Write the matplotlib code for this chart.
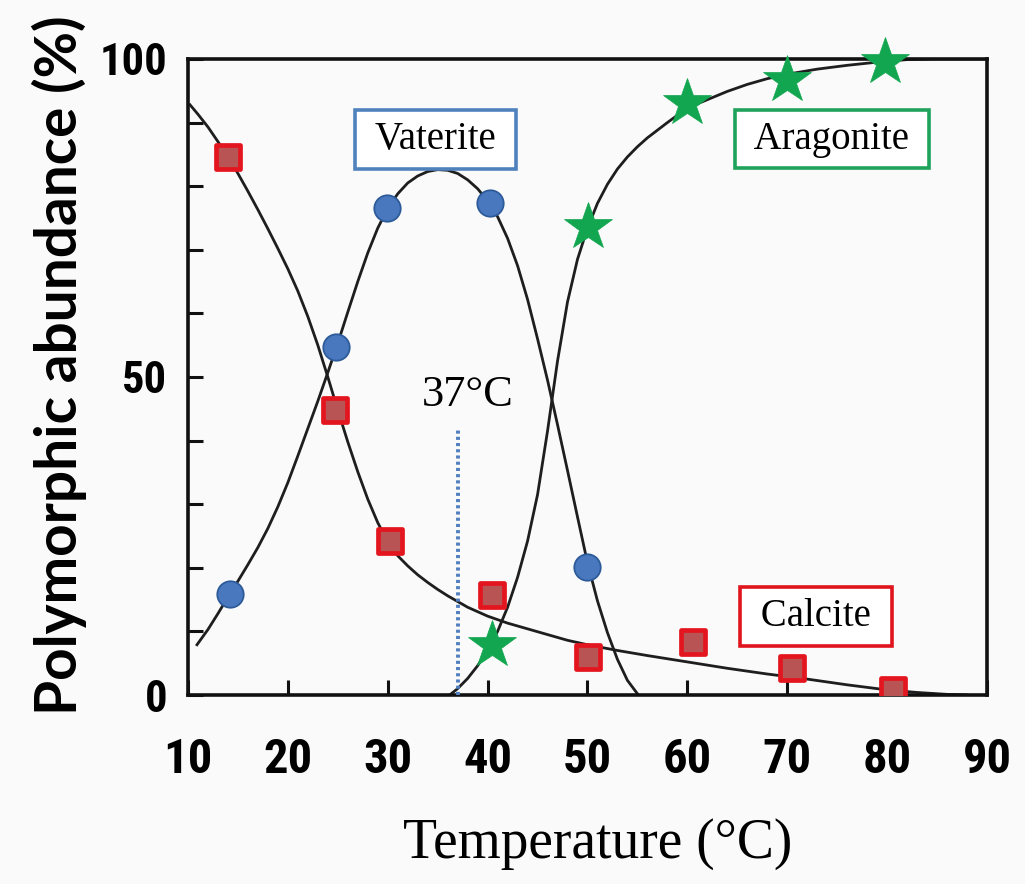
# polymorph abundance vs temperature (calcite / vaterite / aragonite)

import matplotlib
matplotlib.use("Agg")
import matplotlib.pyplot as plt
from matplotlib.markers import MarkerStyle
from matplotlib import font_manager

# measured points
calcite_t = [14.0, 24.7, 30.2, 40.4, 50.1, 60.6, 70.5, 80.6]
calcite_pct = [84.6, 44.8, 24.2, 15.7, 6.0, 8.3, 4.2, 0.8]

vaterite_t = [14.2, 24.8, 29.9, 40.2, 50.0]
vaterite_pct = [15.9, 54.7, 76.6, 77.4, 20.1]

aragonite_t = [40.4, 50.1, 60.0, 70.0, 79.8]
aragonite_pct = [7.9, 73.6, 93.1, 96.7, 99.5]

# hand-drawn fit curves
calcite_curve_t = [10.2, 11, 12, 13, 14, 15, 16, 17, 18, 19, 20, 21, 22, 23, 24, 25, 26, 27,
                   28, 29, 30, 31, 32, 33, 34, 35, 36, 38, 40, 42, 44, 46, 48, 50, 53, 56,
                   60, 64, 68, 72, 76, 80, 83, 86, 88]
calcite_curve_pct = [92.8, 91.3, 89.3, 87.0, 84.6, 82.0, 79.2, 76.3, 73.3, 70.2, 67.0, 63.5,
                     59.5, 55.0, 50.0, 44.8, 39.8, 35.1, 30.8, 27.1, 24.1, 21.9, 20.3, 18.9,
                     17.7, 16.6, 15.6, 13.8, 12.4, 11.3, 10.4, 9.5, 8.6, 7.9, 7.0, 6.2,
                     5.2, 4.2, 3.3, 2.5, 1.6, 0.8, 0.4, 0.1, 0.0]

vaterite_curve_t = [10.9, 12, 13, 14, 15, 16, 17, 18, 19, 20, 21, 22, 23, 24, 25, 26, 27, 28,
                    29, 30, 31, 32, 33, 34, 35, 36, 37, 38, 39, 40, 41, 42, 43, 44, 45, 46,
                    47, 48, 49, 50, 51, 52, 53, 54, 55]
vaterite_curve_pct = [7.9, 10.3, 12.8, 15.4, 17.9, 20.5, 23.2, 26.2, 29.6, 33.4, 37.6, 41.9,
                      46.2, 50.7, 55.3, 60.2, 65.0, 69.5, 73.4, 76.5, 78.8, 80.5, 81.6, 82.3,
                      82.6, 82.5, 82.0, 81.0, 79.6, 77.7, 75.2, 71.8, 67.5, 62.2, 56.0, 49.5,
                      42.5, 35.3, 28.0, 20.8, 14.8, 9.8, 5.6, 2.3, 0.2]

aragonite_curve_t = [36.2, 37, 38, 39, 40, 41, 42, 43, 44, 45, 46, 47, 48, 49, 50, 51, 52, 53,
                     54, 55, 56, 58, 60, 62, 64, 66, 68, 70, 73, 76, 79, 82, 85, 90]
aragonite_curve_pct = [0.0, 1.0, 2.6, 4.6, 7.0, 10.0, 13.8, 18.5, 24.2, 31.5, 41.5, 52.5,
                       61.8, 68.5, 73.4, 77.3, 80.3, 82.7, 84.6, 86.2, 87.6, 90.0, 92.3,
                       93.6, 94.9, 96.0, 96.9, 97.6, 98.4, 99.0, 99.5, 99.9, 100, 100]

body_temp = 37
body_temp_top = 41.7

x_ticks = [10, 20, 30, 40, 50, 60, 70, 80, 90]
y_ticks = [0, 50, 100]
y_minor = [10, 20, 30, 40, 60, 70, 80, 90]


def narrow_sans():
    # prefer a narrow bold sans, the axis numbers in the figure are condensed
    names = {f.name for f in font_manager.fontManager.ttflist}
    for n in ["Liberation Sans Narrow", "Roboto Condensed", "Open Sans Condensed"]:
        if n in names:
            return dict(family=n, stretch="normal")
    for f in font_manager.fontManager.ttflist:
        if f.name == "DejaVu Sans" and f.stretch == "condensed":
            return dict(family="DejaVu Sans", stretch="condensed")
    if "Roboto" in names:
        return dict(family="Roboto", stretch="normal")
    return dict(family="DejaVu Sans", stretch="normal")


def main():
    sans = narrow_sans()
    serif = "Liberation Serif"

    fig = plt.figure(figsize=(10.25, 8.84), dpi=100, facecolor="#fafafa")
    ax = fig.add_axes([0.1834, 0.2138, 0.7795, 0.7195])
    ax.set_facecolor("#fafafa")

    line_kw = dict(color="#1e1e1e", lw=2.0, zorder=2, solid_joinstyle="round")
    ax.plot(calcite_curve_t, calcite_curve_pct, **line_kw)
    ax.plot(vaterite_curve_t, vaterite_curve_pct, **line_kw)
    ax.plot(aragonite_curve_t, aragonite_curve_pct, **line_kw)

    ax.vlines(body_temp, 0, body_temp_top, colors="#4f7fbf", lw=2.8,
              linestyles=(0, (0.8, 0.8)), zorder=3)
    ax.text(38.0, 47.2, "37°C", fontsize=32, family=serif, ha="center", va="center")

    sq = MarkerStyle("s", joinstyle="round")
    ax.plot(calcite_t, calcite_pct, ls="none", marker=sq, ms=17.5, mfc="#b95454",
            mec="#e3161f", mew=3.4, zorder=5)
    ax.plot(vaterite_t, vaterite_pct, ls="none", marker="o", ms=19, mfc="#4a78be",
            mec="#2d5b9a", mew=1.3, zorder=5)
    ax.plot(aragonite_t, aragonite_pct, ls="none", marker="*", ms=36, mfc="#12a650",
            mec="#12a650", mew=0.5, zorder=5, clip_on=False)

    box_kw = dict(fontsize=28, family=serif, ha="center", va="center", zorder=6)
    ax.text(34.8, 87.3, " Vaterite ", **box_kw,
            bbox=dict(boxstyle="square,pad=0.28", fc="white", ec="#4f81bd", lw=2.6))
    ax.text(74.5, 87.4, " Aragonite ", **box_kw,
            bbox=dict(boxstyle="square,pad=0.28", fc="white", ec="#1fa35c", lw=2.6))
    ax.text(72.9, 12.4, " Calcite ", **box_kw,
            bbox=dict(boxstyle="square,pad=0.28", fc="white", ec="#e0141c", lw=2.6))

    ax.set_xlim(10, 90)
    ax.set_ylim(0, 100)
    ax.set_xticks(x_ticks)
    ax.set_yticks(y_ticks)
    ax.set_yticks(y_minor, minor=True)
    ax.tick_params(axis="both", which="both", direction="in", length=11, width=2.2,
                   color="#111111")
    ax.tick_params(axis="x", pad=30, labelsize=35)
    ax.tick_params(axis="y", pad=15, labelsize=32)
    ax.tick_params(top=False, right=False, which="both")
    for lab in ax.get_xticklabels() + ax.get_yticklabels():
        lab.set_family(sans["family"])
        lab.set_stretch(sans["stretch"])
        lab.set_fontweight("bold")

    for s in ax.spines.values():
        s.set_linewidth(2.6)
        s.set_color("#111111")

    ax.set_xlabel("Temperature (°C)", fontsize=40, family=serif)
    ax.xaxis.set_label_coords(0.513, -0.193)
    ylab = ax.set_ylabel("Polymorphic abundance (%)", fontsize=30,
                         family=["Lato", "DejaVu Sans"], fontweight="bold")
    ax.yaxis.set_label_coords(-0.127, 0.519)

    # scale the y label so it spans about 700 px like the original
    fig.canvas.draw()
    h = ylab.get_window_extent().height
    ylab.set_fontsize(30 * 700.0 / h)

    fig.savefig("out.png", dpi=100, facecolor=fig.get_facecolor())


if __name__ == "__main__":
    main()
